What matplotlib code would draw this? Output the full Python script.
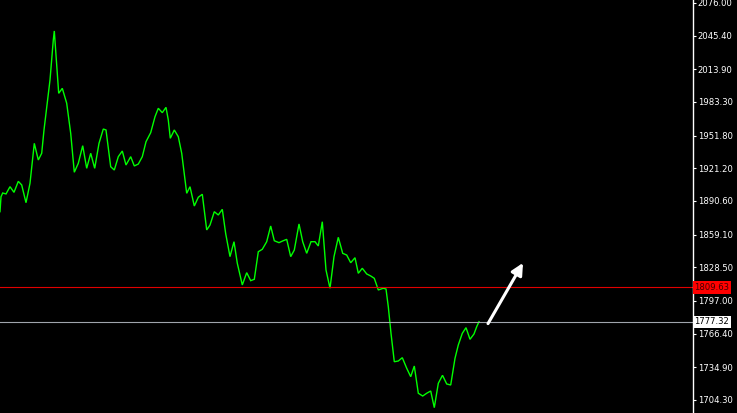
import matplotlib
matplotlib.use("Agg")
import matplotlib.pyplot as plt

# time position (chart x units) and close price
t = [0, 1, 2.7, 6, 10, 14, 18.3, 21.7, 26, 30, 34.3, 38.3, 41.7, 44, 50, 53.3, 54.3, 56, 58.7, 62.3,
     66.7, 70.7, 74.3, 78.3, 82.7, 86.7, 90.7, 94.7, 99, 103.3, 106, 110.7, 114.3, 118.3,
     122.3, 126, 130.7, 134.3, 138.3, 142.3, 146, 150.7, 155, 158.3, 162.3, 166, 168.3, 170.3, 174.3, 178.3,
     181.7, 185, 186.7, 190, 194.3, 198.3, 202.3, 206.7, 210, 214.3, 218.3, 222.3, 225.7, 230, 234, 237.3,
     242.3, 246.7, 250.7, 254.3, 258.3, 262.3, 266.7, 270.7, 274.3, 279, 282.7, 286.7, 290.7, 294.3,
     299, 302.7, 306.7, 311, 315, 318.3, 322.3, 326, 330, 334, 338.3, 342.7, 346.7, 350.7, 355,
     358.3, 362.3, 366.7, 370.7, 374.3, 378.3, 383.3, 386, 388.3, 391, 394.3, 398.3, 402.3, 406.7,
     410.7, 414.3, 418.3, 422.7, 426.7, 430.7, 434.3, 438.3, 442.5, 446.7, 450.7, 455, 458.3, 462.3,
     466, 470, 474, 476.7, 479]
price = [1880.6, 1894.6, 1898.1, 1897.2, 1904.0, 1898.7, 1909.0, 1905.6, 1889.0, 1907.2, 1944.6, 1929.0,
         1935.3, 1957.1, 2003.9, 2041.3, 2049.8, 2027.3, 1991.4, 1996.1, 1982.1, 1954.0, 1917.5, 1925.9,
         1942.4, 1921.2, 1935.3, 1921.2, 1944.6, 1958.0, 1957.1, 1922.7, 1919.6, 1932.1,
         1937.4, 1924.3, 1932.1, 1923.4, 1925.2, 1932.1, 1946.1, 1954.6, 1969.5, 1977.4, 1973.3, 1978.3,
         1966.4, 1949.3, 1957.1, 1950.8, 1935.3, 1910.3, 1897.8, 1904.0, 1885.9, 1894.1, 1896.9, 1863.5,
         1868.1, 1880.6, 1877.5, 1882.8, 1860.0, 1838.5, 1852.5, 1832.3, 1812.0, 1823.5, 1816.0, 1817.3,
         1843.1, 1845.4, 1852.5, 1867.2, 1853.4, 1851.6, 1853.2, 1854.7, 1838.5, 1844.7, 1869.1, 1852.5,
         1841.6, 1852.5, 1852.5, 1848.5, 1871.2, 1826.0, 1808.9, 1838.5, 1856.6, 1841.6, 1840.0, 1832.8,
         1837.5, 1822.9, 1827.6, 1822.3, 1820.4, 1818.2, 1807.3, 1808.9, 1808.2, 1791.6, 1766.7, 1740.1,
         1740.8, 1743.9, 1734.0, 1726.1, 1736.1, 1710.6, 1708.0, 1710.6, 1712.7, 1697.1, 1719.9, 1727.4,
         1719.3, 1718.3, 1743.3, 1755.8, 1766.7, 1772.0, 1761.1, 1766.1, 1772.9, 1777.6]
assert len(t) == len(price)

tick_prices = [2076.00, 2045.40, 2013.90, 1983.30, 1951.80, 1921.20, 1890.60, 1859.10,
               1828.50, 1797.00, 1766.40, 1734.90, 1704.30]
tick_labels = ["2076.00", "2045.40", "2013.90", "1983.30", "1951.80", "1921.20", "1890.60",
               "1859.10", "1828.50", "1797.00", "1766.40", "1734.90", "1704.30"]

red_level = 1809.63
last_price = 1777.32
arrow_start = (488, 1775.8)
arrow_end = (523, 1832.6)

fig = plt.figure(figsize=(7.37, 4.13), dpi=100, facecolor="black")
ax = fig.add_axes([0, 0, 693 / 737, 1])
ax.set_facecolor("black")

ax.plot(t, price, color="#00ff00", lw=1.0, solid_joinstyle="miter")
ax.axhline(red_level, color="#e00000", lw=0.8)
ax.axhline(last_price, color="#a0a4ac", lw=0.8)

ax.annotate("", xy=arrow_end, xytext=arrow_start,
            arrowprops=dict(arrowstyle="-|>,head_length=0.7,head_width=0.35",
                            color="white", lw=2.2, shrinkA=0, shrinkB=0))

ax.set_xlim(0, 693)
ax.set_ylim(1692.1, 2078.8)

for s in ["top", "bottom", "left"]:
    ax.spines[s].set_visible(False)
ax.spines["right"].set_color("white")
ax.spines["right"].set_linewidth(1.0)
ax.set_xticks([])
ax.yaxis.tick_right()
ax.set_yticks(tick_prices)
ax.set_yticklabels(tick_labels)
ax.tick_params(axis="y", colors="white", length=2.5, width=0.8, pad=1,
               labelsize=6.1, labelcolor="white")

trans = ax.get_yaxis_transform()
ax.text(1.002, red_level, "1809.63", transform=trans, ha="left", va="center",
        fontsize=6.1, color="#400000", clip_on=False,
        bbox=dict(boxstyle="square,pad=0.2", fc="#ff0000", ec="none"))
ax.text(1.002, last_price, "1777.32", transform=trans, ha="left", va="center",
        fontsize=6.1, color="black", clip_on=False,
        bbox=dict(boxstyle="square,pad=0.2", fc="white", ec="none"))

fig.savefig("out.png", dpi=100, facecolor="black")
